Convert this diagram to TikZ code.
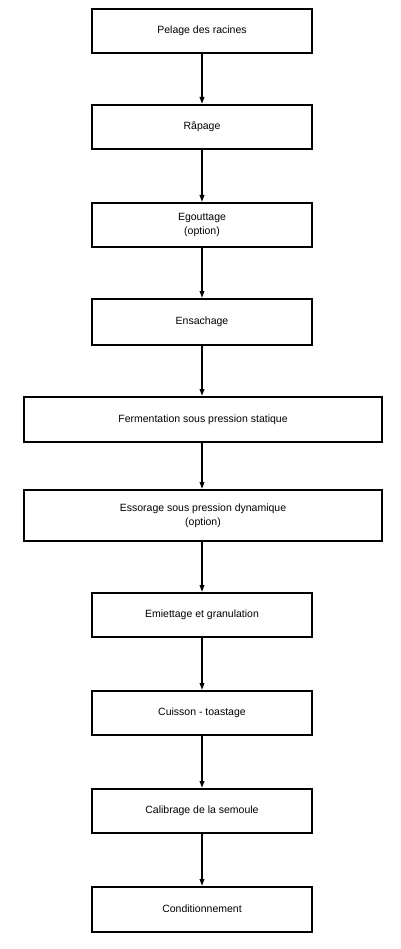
\documentclass[tikz,border=0pt]{standalone}
\usepackage{fontspec}
\setmainfont{Liberation Sans}
\usetikzlibrary{arrows.meta}
\begin{document}
\begin{tikzpicture}[x=1pt,y=-1pt,
  stepbox/.style={draw=black,line width=2pt,fill=white,inner sep=0pt,align=center,
    font=\fontsize{10.5}{14}\selectfont},
  flow/.style={line width=2pt,-{Triangle[width=4.5pt,length=7pt]}}]
\useasboundingbox (0,0) rectangle (400,949);
\def\mybox#1#2#3#4#5#6{\node[stepbox,minimum width=#3-#2,minimum height=#5-#4] (#1) at ({(#2+#3)/2},{(#4+#5)/2}) {\raisebox{-1.5pt}{\begin{tabular}{@{}c@{}}#6\end{tabular}}};}
\mybox{b1}{92}{312}{9}{53}{Pelage des racines}
\mybox{b2}{92}{312}{105}{149}{Râpage}
\mybox{b3}{92}{312}{203}{247}{Egouttage\\(option)}
\mybox{b4}{92}{312}{299}{345}{Ensachage}
\mybox{b5}{24}{382}{397}{442}{Fermentation sous pression statique}
\mybox{b6}{24}{382}{490}{541}{Essorage sous pression dynamique\\(option)}
\mybox{b7}{92}{312}{593}{637}{Emiettage et granulation}
\mybox{b8}{92}{312}{691}{735}{Cuisson - toastage}
\mybox{b9}{92}{312}{789}{833}{Calibrage de la semoule}
\mybox{b10}{92}{312}{887}{932}{Conditionnement}
\foreach \a/\b in {b1/b2,b2/b3,b3/b4,b4/b5,b5/b6,b6/b7,b7/b8,b8/b9,b9/b10}
  \draw[flow] (\a.south -| b1.south) -- (\b.north -| b1.south);
\end{tikzpicture}
\end{document}
